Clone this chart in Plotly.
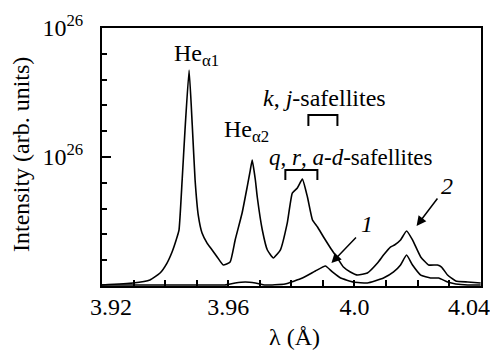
import plotly.graph_objects as go

# Curve 2 (upper spectrum)
wl_2 = [3.9200, 3.9298, 3.9352, 3.9384, 3.9406, 3.9422, 3.9435, 3.9444, 3.9454, 3.9463,
        3.9476, 3.9486, 3.9495, 3.9505, 3.9517, 3.9533, 3.9549, 3.9565, 3.9584, 3.9606,
        3.9622, 3.9644, 3.9660, 3.9670, 3.9676, 3.9686, 3.9692, 3.9708, 3.9724, 3.9743,
        3.9765, 3.9787, 3.9803, 3.9819, 3.9835, 3.9851, 3.9867, 3.9883, 3.9902, 3.9924,
        3.9946, 3.9965, 3.9987, 4.0010, 4.0041, 4.0073, 4.0092, 4.0114, 4.0127, 4.0146,
        4.0165, 4.0184, 4.0210, 4.0235, 4.0263, 4.0276, 4.0295, 4.0321, 4.0359, 4.0400]
int_2 = [0.008, 0.023, 0.047, 0.101, 0.178, 0.264, 0.357, 0.434, 0.822, 1.209,
         1.674, 1.248, 0.822, 0.550, 0.411, 0.333, 0.279, 0.225, 0.163, 0.186,
         0.357, 0.566, 0.767, 0.899, 0.977, 0.822, 0.690, 0.434, 0.279, 0.217,
         0.279, 0.488, 0.721, 0.760, 0.829, 0.690, 0.512, 0.457, 0.380, 0.295,
         0.217, 0.147, 0.109, 0.085, 0.101, 0.178, 0.240, 0.302, 0.318, 0.357,
         0.426, 0.357, 0.225, 0.163, 0.163, 0.147, 0.085, 0.039, 0.031, 0.023]

# Curve 1 (lower spectrum)
wl_1 = [3.9200, 3.9511, 3.9590, 3.9622, 3.9654, 3.9686, 3.9717, 3.9780, 3.9835, 3.9876,
        3.9908, 3.9930, 3.9956, 3.9997, 4.0041, 4.0092, 4.0124, 4.0146, 4.0165, 4.0184,
        4.0210, 4.0241, 4.0267, 4.0295, 4.0321, 4.0359, 4.0400]
int_1 = [0.008, 0.008, 0.008, 0.023, 0.031, 0.023, 0.008, 0.016, 0.062, 0.116,
         0.155, 0.109, 0.062, 0.031, 0.023, 0.062, 0.109, 0.163, 0.240, 0.163,
         0.085, 0.062, 0.062, 0.031, 0.016, 0.008, 0.008]

NB = "\u00a0"
x_tickvals = [3.92, 3.96, 4.00, 4.04]
x_ticktext = [NB * 3 + "3.92", "3.96", "4.0", "4.04"]
y_tickvals = [1, 2]
y_ticktext = ["10<sup>26</sup>", "10<sup>26</sup>"]

FONT = "Liberation Serif, Times New Roman, serif"

fig = go.Figure()
fig.add_trace(go.Scatter(x=wl_2, y=int_2, mode="lines",
                         line=dict(color="black", width=1.6, shape="spline", smoothing=0.4),
                         showlegend=False))
fig.add_trace(go.Scatter(x=wl_1, y=int_1, mode="lines",
                         line=dict(color="black", width=1.6, shape="spline", smoothing=0.4),
                         showlegend=False))

# page body has an 8px margin, so the figure is shifted by 8px
fig.update_layout(
    width=490, height=345,
    margin=dict(l=94, r=17, t=20, b=67),
    paper_bgcolor="white", plot_bgcolor="white",
    font=dict(family=FONT, size=24, color="black"),
)
# the last tick label sits flush with the right edge, so it is drawn as an annotation
fig.update_xaxes(
    range=[3.92, 4.0401], tickvals=x_tickvals[:-1], ticktext=x_ticktext[:-1],
    automargin=False,
    showgrid=False, zeroline=False,
    showline=True, linecolor="black", linewidth=2, mirror=True,
    ticks="inside", ticklen=6, tickwidth=1.5, tickcolor="black",
    ticklabelstandoff=-2, ticklabeloverflow="allow",
    minor=dict(dtick=0.01, ticks="inside", ticklen=6, tickwidth=1.5, tickcolor="black", showgrid=False),
    tickfont=dict(family=FONT, size=24),
)
fig.add_annotation(text=x_ticktext[-1], x=x_tickvals[-1], xref="x", y=0, yref="paper",
                   xanchor="right", yanchor="middle", xshift=11, yshift=-21,
                   showarrow=False, font=dict(family=FONT, size=24))
fig.update_yaxes(
    range=[0, 2.0005], tickvals=y_tickvals, ticktext=y_ticktext,
    automargin=False,
    showgrid=False, zeroline=False,
    showline=True, linecolor="black", linewidth=2, mirror=True,
    ticks="inside", ticklen=9, tickwidth=1.5, tickcolor="black",
    ticklabelstandoff=12, ticklabeloverflow="allow",
    minor=dict(dtick=0.2, ticks="inside", ticklen=5, tickwidth=1.5, tickcolor="black", showgrid=False),
    tickfont=dict(family=FONT, size=24),
)

# axis titles
fig.add_annotation(text="Intensity (arb. units)", xref="paper", yref="paper",
                   x=-0.2137, y=0.508, textangle=-90, showarrow=False,
                   xanchor="center", yanchor="middle", font=dict(family=FONT, size=24))
fig.add_annotation(text="λ (Å)", xref="paper", yref="paper",
                   x=0.509, y=-0.198, showarrow=False,
                   xanchor="center", yanchor="middle", font=dict(family=FONT, size=24))

# peak labels
fig.add_annotation(text="He<sub>α1</sub>", x=3.9422, y=1.79, xanchor="left", yanchor="middle",
                   showarrow=False, font=dict(family=FONT, size=24))
fig.add_annotation(text="He<sub>α2</sub>", x=3.9581, y=1.20, xanchor="left", yanchor="middle",
                   showarrow=False, font=dict(family=FONT, size=24))
fig.add_annotation(text="<i>k</i>, <i>j</i>-safellites", x=3.9906, y=1.457,
                   xanchor="center", yanchor="middle", showarrow=False, font=dict(family=FONT, size=24))
fig.add_annotation(text="<i>q</i>, <i>r</i>, <i>a</i>-<i>d</i>-safellites", x=3.9989, y=1.000,
                   xanchor="center", yanchor="middle", showarrow=False, font=dict(family=FONT, size=23))

# brackets
kj_span = [3.9854, 3.9946]
kj_y = [1.240, 1.326]
qr_span = [3.9781, 3.98825]
qr_y = [0.822, 0.899]
for span, yy in [(kj_span, kj_y), (qr_span, qr_y)]:
    fig.add_shape(type="path",
                  path=f"M {span[0]},{yy[0]} L {span[0]},{yy[1]} L {span[1]},{yy[1]} L {span[1]},{yy[0]}",
                  line=dict(color="black", width=2))

# curve labels with arrows
fig.add_annotation(text="", x=3.9927, y=0.178, ax=26, ay=-27, showarrow=True,
                   arrowhead=2, arrowsize=1.3, arrowwidth=1.5, arrowcolor="black")
fig.add_annotation(text="", x=4.01968, y=0.465, ax=22, ay=-29, showarrow=True,
                   arrowhead=2, arrowsize=1.3, arrowwidth=1.5, arrowcolor="black")
fig.add_annotation(text="<i>1</i>", x=4.00413, y=0.481, showarrow=False,
                   xanchor="center", yanchor="middle", font=dict(family=FONT, size=24))
fig.add_annotation(text="<i>2</i>", x=4.02921, y=0.775, showarrow=False,
                   xanchor="center", yanchor="middle", font=dict(family=FONT, size=24))

fig.write_html("out.html")
